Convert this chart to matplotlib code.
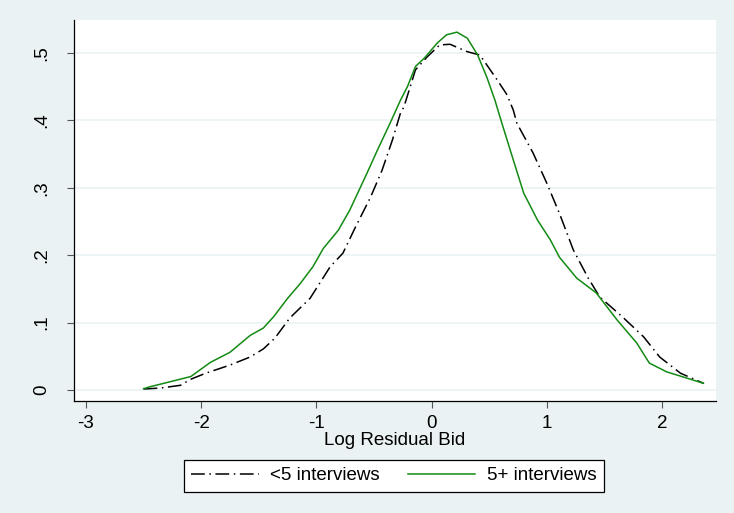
import matplotlib.pyplot as plt

plt.rcParams['font.family'] = ['Liberation Sans', 'DejaVu Sans']
plt.rcParams['axes.unicode_minus'] = False

# Kernel density of log residual bid
x_lt5 = [-2.50, -2.35, -2.18, -2.09, -1.96, -1.75, -1.575, -1.46, -1.36, -1.23, -1.055,
         -0.88, -0.77, -0.66, -0.53, -0.43, -0.34, -0.27, -0.24, -0.14, -0.04, 0.07,
         0.16, 0.31, 0.42, 0.57, 0.655, 0.71, 0.74, 0.88, 1.00, 1.11, 1.23, 1.36,
         1.46, 1.66, 1.84, 1.98, 2.16, 2.36]
y_lt5 = [0.0015, 0.003, 0.007, 0.016, 0.025, 0.037, 0.049, 0.061, 0.077, 0.107, 0.136,
         0.183, 0.203, 0.242, 0.286, 0.326, 0.371, 0.411, 0.420, 0.475, 0.494, 0.512,
         0.513, 0.502, 0.497, 0.460, 0.438, 0.415, 0.396, 0.352, 0.307, 0.262, 0.208,
         0.166, 0.138, 0.108, 0.079, 0.049, 0.025, 0.010]

x_5plus = [-2.50, -2.44, -2.09, -1.92, -1.75, -1.575, -1.46, -1.37, -1.25, -1.14, -1.03,
           -0.94, -0.81, -0.71, -0.56, -0.47, -0.36, -0.27, -0.21, -0.14, -0.06, 0.05,
           0.13, 0.22, 0.31, 0.40, 0.48, 0.55, 0.61, 0.71, 0.80, 0.92, 1.03,
           1.11, 1.26, 1.43, 1.61, 1.78, 1.89, 2.04, 2.21, 2.36]
y_5plus = [0.002, 0.005, 0.020, 0.041, 0.056, 0.081, 0.092, 0.109, 0.136, 0.158, 0.183,
           0.210, 0.237, 0.267, 0.322, 0.356, 0.396, 0.430, 0.450, 0.480, 0.493, 0.515,
           0.527, 0.531, 0.522, 0.497, 0.464, 0.430, 0.396, 0.341, 0.292, 0.252,
           0.223, 0.197, 0.166, 0.144, 0.104, 0.070, 0.040, 0.027, 0.018, 0.010]

x_ticks = [-3, -2, -1, 0, 1, 2]
y_ticks = [0, 0.1, 0.2, 0.3, 0.4, 0.5]
y_ticklabels = ['0', '.1', '.2', '.3', '.4', '.5']

bg = '#EAF2F3'

fig = plt.figure(figsize=(7.34, 5.13), dpi=100, facecolor=bg)
ax = fig.add_axes([0.1008, 0.2183, 0.8747, 0.7427])
ax.set_facecolor('white')

ax.plot(x_lt5, y_lt5, color='black', lw=1.1, dashes=(9, 3, 1, 3), label='<5 interviews')
ax.plot(x_5plus, y_5plus, color='#138A13', lw=1.1, label='5+ interviews')

ax.set_xlim(-3.104, 2.469)
ax.set_ylim(-0.0163, 0.549)
ax.set_xticks(x_ticks)
ax.set_yticks(y_ticks)
ax.set_yticklabels(y_ticklabels, rotation=90, va='center')
ax.tick_params(labelsize=13.5, length=5, width=0.8, color='#555555')
ax.tick_params(axis='x', pad=5)
ax.tick_params(axis='y', pad=12)
ax.grid(axis='y', color=bg, lw=1.2)
ax.set_axisbelow(True)

for s in ['top', 'right']:
    ax.spines[s].set_visible(False)
for s in ['left', 'bottom']:
    ax.spines[s].set_color('black')
    ax.spines[s].set_linewidth(0.9)

ax.set_xlabel('Log Residual Bid', fontsize=13.5, labelpad=0)

leg = fig.legend(loc='center', bbox_to_anchor=(0.5365, 0.0725), ncol=2, fontsize=13.5,
                 frameon=True, fancybox=False, edgecolor='black', framealpha=1,
                 handlelength=3.6, handletextpad=0.6, columnspacing=1.5, borderpad=0.4)
leg.get_frame().set_linewidth(0.9)

fig.savefig('out.png', dpi=100, facecolor=bg)
